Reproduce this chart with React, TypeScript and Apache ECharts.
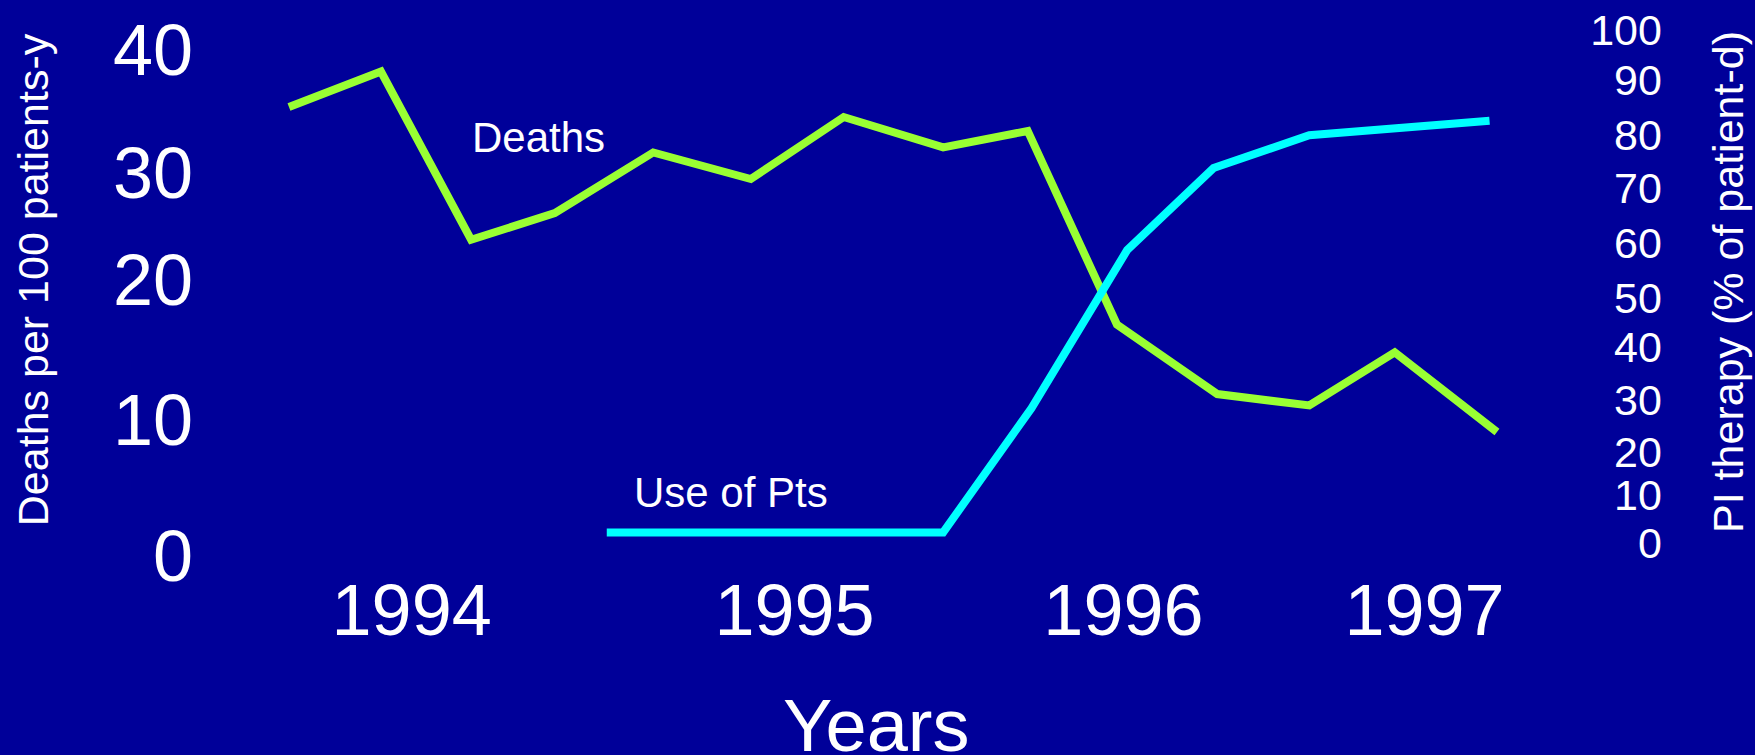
import React, { useEffect, useRef } from 'react';
import * as echarts from 'echarts';

// Quarterly positions (0 = first quarter of 1994) and values
const deathsX = [0, 0.99, 1.96, 2.86, 3.92, 4.97, 5.97, 7.04, 7.95, 8.91, 9.99, 10.98, 11.9, 13.0];
const deathsY = [35.5, 38.3, 25.0, 27.1, 31.9, 29.8, 34.7, 32.3, 33.6, 18.3, 12.8, 11.9, 16.1, 9.8];

const piX = [3.42, 7.04, 7.99, 9.02, 9.95, 10.98, 12.92];
const piY = [2.1, 2.1, 26.3, 57.1, 73.1, 79.5, 82.3];

// Tick labels and where they sit on their axis
const yearLabels = ['1994', '1995', '1996', '1997'];
const yearPos = [1.32, 5.44, 8.98, 12.22];

const leftTickLabels = ['0', '10', '20', '30', '40'];
const leftTickPos = [0, 10.75, 21.8, 30.3, 40];

const rightTickLabels = ['0', '10', '20', '30', '40', '50', '60', '70', '80', '90', '100'];
const rightTickPos = [0, 9.36, 17.74, 27.88, 38.21, 47.76, 58.48, 69.2, 79.53, 90.25, 100];

const FONT = '"Liberation Sans", Arial, Helvetica, sans-serif';
const BG = '#000099';
const GREEN = '#99FF33';
const CYAN = '#00FFFF';

function lookup(pos: number[], labels: string[]) {
  return (v: number) => {
    let best = 0;
    for (let i = 1; i < pos.length; i++) {
      if (Math.abs(pos[i] - v) < Math.abs(pos[best] - v)) best = i;
    }
    return labels[best];
  };
}

export default function App() {
  const ref = useRef<HTMLDivElement>(null);

  useEffect(() => {
    if (!ref.current) return;
    const chart = echarts.init(ref.current, undefined, { renderer: 'svg' });
    const hidden = { show: false };
    chart.setOption({
      animation: false,
      backgroundColor: BG,
      grid: {
        left: 242.5,
        right: 165.1,
        top: 30,
        bottom: 199,
        containLabel: false,
        outerBoundsMode: 'none',
      },
      xAxis: {
        type: 'value',
        min: -0.5,
        max: 14,
        axisLine: hidden,
        axisTick: hidden,
        splitLine: hidden,
        axisLabel: {
          customValues: yearPos,
          formatter: lookup(yearPos, yearLabels),
          color: '#ffffff',
          fontSize: 72,
          fontFamily: FONT,
          margin: 54,
          verticalAlign: 'middle',
        },
        name: 'Years',
        nameLocation: 'middle',
        nameGap: 141,
        nameTextStyle: {
          color: '#ffffff',
          fontSize: 74,
          lineHeight: 56,
          fontFamily: FONT,
          padding: [0, 80, 0, 0],
        },
      },
      yAxis: [
        {
          type: 'value',
          position: 'left',
          min: 0,
          max: 41.58,
          axisLine: hidden,
          axisTick: hidden,
          splitLine: hidden,
          axisLabel: {
            customValues: leftTickPos,
            formatter: lookup(leftTickPos, leftTickLabels),
            color: '#ffffff',
            fontSize: 72,
            fontFamily: FONT,
            margin: 49.5,
          },
          name: 'Deaths per 100 patients-y',
          nameLocation: 'middle',
          nameRotate: 90,
          nameGap: 188,
          nameTextStyle: { color: '#ffffff', fontSize: 43, fontFamily: FONT, padding: [0, 0, 0, 26] },
        },
        {
          type: 'value',
          position: 'right',
          min: -2.5,
          max: 100,
          axisLine: hidden,
          axisTick: hidden,
          splitLine: hidden,
          axisLabel: {
            customValues: rightTickPos,
            formatter: lookup(rightTickPos, rightTickLabels),
            color: '#ffffff',
            fontSize: 43,
            lineHeight: 40,
            fontFamily: FONT,
            align: 'right',
            margin: 72,
          },
          name: 'PI therapy (% of patient-d)',
          nameLocation: 'middle',
          nameRotate: 90,
          nameGap: 117,
          nameTextStyle: { color: '#ffffff', fontSize: 43, fontFamily: FONT, padding: [0, 0, 0, 22] },
        },
      ],
      series: [
        {
          name: 'Deaths',
          type: 'line',
          yAxisIndex: 0,
          data: deathsX.map((x, i) => [x, deathsY[i]]),
          symbol: 'none',
          lineStyle: { color: GREEN, width: 8, join: 'miter', cap: 'butt' },
        },
        {
          name: 'Use of Pts',
          type: 'line',
          yAxisIndex: 1,
          data: piX.map((x, i) => [x, piY[i]]),
          symbol: 'none',
          lineStyle: { color: CYAN, width: 8, join: 'miter', cap: 'butt' },
        },
      ],
      graphic: [
        {
          type: 'text',
          left: 472,
          top: 116,
          style: { text: 'Deaths', fill: '#ffffff', font: `42px ${FONT}` },
        },
        {
          type: 'text',
          left: 634,
          top: 471,
          style: { text: 'Use of Pts', fill: '#ffffff', font: `42px ${FONT}` },
        },
      ],
    });
    return () => chart.dispose();
  }, []);

  return (
    <div
      ref={ref}
      style={{ position: 'fixed', left: 0, top: 0, width: 1755, height: 755 }}
    />
  );
}
